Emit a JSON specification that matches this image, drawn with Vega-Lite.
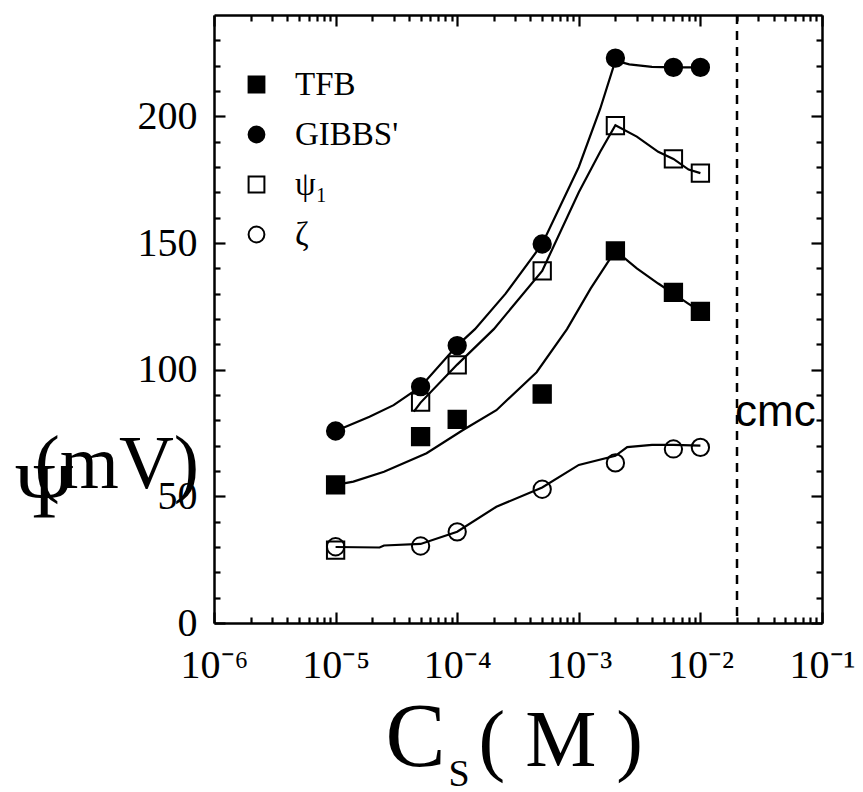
{
  "$schema": "https://vega.github.io/schema/vega-lite/v6.json",
  "width": 608,
  "height": 608,
  "autosize": "none",
  "padding": {"left": 214, "top": 15, "right": 41, "bottom": 169},
  "background": "white",
  "config": {
    "view": {"stroke": null},
    "axis": {
      "grid": false,
      "domainColor": "black",
      "domainWidth": 2.5,
      "tickColor": "black",
      "tickWidth": 2.2,
      "labelColor": "black",
      "labelFont": "Liberation Serif",
      "titleFont": "Liberation Serif",
      "titleFontWeight": "normal",
      "titleColor": "black",
      "labelFlush": false,
      "labelOverlap": false
    },
    "legend": {
      "orient": "none",
      "legendX": 26,
      "legendY": 53,
      "labelFont": "Liberation Serif",
      "labelFontSize": 33,
      "labelColor": "black",
      "symbolSize": 250,
      "symbolStrokeWidth": 2,
      "rowPadding": 16,
      "labelOffset": 22,
      "padding": 0
    }
  },
  "datasets": {
    "points": [
      {"series": "TFB", "c": 1e-5, "v": 54.5},
      {"series": "TFB", "c": 5e-5, "v": 73.6},
      {"series": "TFB", "c": 1e-4, "v": 80.4},
      {"series": "TFB", "c": 5e-4, "v": 90.4},
      {"series": "TFB", "c": 2e-3, "v": 146.9},
      {"series": "TFB", "c": 6e-3, "v": 130.5},
      {"series": "TFB", "c": 1e-2, "v": 123},
      {"series": "GIBBS'", "c": 1e-5, "v": 75.8},
      {"series": "GIBBS'", "c": 5e-5, "v": 93.3},
      {"series": "GIBBS'", "c": 1e-4, "v": 109.5},
      {"series": "GIBBS'", "c": 5e-4, "v": 149.6},
      {"series": "GIBBS'", "c": 2e-3, "v": 223},
      {"series": "GIBBS'", "c": 6e-3, "v": 219.3},
      {"series": "GIBBS'", "c": 1e-2, "v": 219.3},
      {"series": "ψ₁", "c": 1e-5, "v": 28.8},
      {"series": "ψ₁", "c": 5e-5, "v": 87.2},
      {"series": "ψ₁", "c": 1e-4, "v": 101.9},
      {"series": "ψ₁", "c": 5e-4, "v": 139},
      {"series": "ψ₁", "c": 2e-3, "v": 196.3},
      {"series": "ψ₁", "c": 6e-3, "v": 183.2},
      {"series": "ψ₁", "c": 1e-2, "v": 177.6},
      {"series": "ζ", "c": 1e-5, "v": 30.1},
      {"series": "ζ", "c": 5e-5, "v": 30.4},
      {"series": "ζ", "c": 1e-4, "v": 36},
      {"series": "ζ", "c": 5e-4, "v": 52.8},
      {"series": "ζ", "c": 2e-3, "v": 63.2},
      {"series": "ζ", "c": 6e-3, "v": 68.7},
      {"series": "ζ", "c": 1e-2, "v": 69.3}
    ],
    "curves": [
      {"series": "TFB", "c": 1e-5, "v": 54.5},
      {"series": "TFB", "c": 1.4e-5, "v": 55.8},
      {"series": "TFB", "c": 2.5e-5, "v": 59.7},
      {"series": "TFB", "c": 5.6e-5, "v": 67},
      {"series": "TFB", "c": 1.1e-4, "v": 76},
      {"series": "TFB", "c": 2.1e-4, "v": 84},
      {"series": "TFB", "c": 4.5e-4, "v": 99},
      {"series": "TFB", "c": 8e-4, "v": 116},
      {"series": "TFB", "c": 1.25e-3, "v": 132},
      {"series": "TFB", "c": 2e-3, "v": 147},
      {"series": "TFB", "c": 3e-3, "v": 140},
      {"series": "TFB", "c": 4.5e-3, "v": 134},
      {"series": "TFB", "c": 6e-3, "v": 130},
      {"series": "TFB", "c": 8e-3, "v": 126},
      {"series": "TFB", "c": 1e-2, "v": 123},
      {"series": "GIBBS'", "c": 1e-5, "v": 75.8},
      {"series": "GIBBS'", "c": 1.9e-5, "v": 81.4},
      {"series": "GIBBS'", "c": 3e-5, "v": 86},
      {"series": "GIBBS'", "c": 5e-5, "v": 93.3},
      {"series": "GIBBS'", "c": 1e-4, "v": 109.5},
      {"series": "GIBBS'", "c": 1.4e-4, "v": 116},
      {"series": "GIBBS'", "c": 2.5e-4, "v": 130},
      {"series": "GIBBS'", "c": 5e-4, "v": 149.6},
      {"series": "GIBBS'", "c": 1e-3, "v": 180},
      {"series": "GIBBS'", "c": 1.5e-3, "v": 203},
      {"series": "GIBBS'", "c": 2e-3, "v": 222},
      {"series": "GIBBS'", "c": 2.6e-3, "v": 220.5},
      {"series": "GIBBS'", "c": 4e-3, "v": 219.5},
      {"series": "GIBBS'", "c": 6e-3, "v": 219.3},
      {"series": "GIBBS'", "c": 1e-2, "v": 219.3},
      {"series": "ψ₁", "c": 4.4e-5, "v": 83.4},
      {"series": "ψ₁", "c": 5e-5, "v": 87},
      {"series": "ψ₁", "c": 1e-4, "v": 102},
      {"series": "ψ₁", "c": 2e-4, "v": 116},
      {"series": "ψ₁", "c": 5e-4, "v": 139},
      {"series": "ψ₁", "c": 1e-3, "v": 170},
      {"series": "ψ₁", "c": 1.5e-3, "v": 186},
      {"series": "ψ₁", "c": 2e-3, "v": 196.5},
      {"series": "ψ₁", "c": 3e-3, "v": 192},
      {"series": "ψ₁", "c": 4.5e-3, "v": 186},
      {"series": "ψ₁", "c": 6e-3, "v": 183.2},
      {"series": "ψ₁", "c": 8e-3, "v": 179},
      {"series": "ψ₁", "c": 1e-2, "v": 177.6},
      {"series": "ζ", "c": 1e-5, "v": 30},
      {"series": "ζ", "c": 2.3e-5, "v": 29.8},
      {"series": "ζ", "c": 2.5e-5, "v": 30.6},
      {"series": "ζ", "c": 5e-5, "v": 31.2},
      {"series": "ζ", "c": 1e-4, "v": 36},
      {"series": "ζ", "c": 2.1e-4, "v": 45.9},
      {"series": "ζ", "c": 5e-4, "v": 53.5},
      {"series": "ζ", "c": 1e-3, "v": 62.4},
      {"series": "ζ", "c": 2e-3, "v": 66},
      {"series": "ζ", "c": 2.5e-3, "v": 69.4},
      {"series": "ζ", "c": 4e-3, "v": 70.3},
      {"series": "ζ", "c": 6e-3, "v": 70.3},
      {"series": "ζ", "c": 1e-2, "v": 70}
    ],
    "cmc": [{"c": 0.02, "v": 83, "label": "cmc"}]
  },
  "resolve": {"axis": {"x": "independent", "y": "independent"}},
  "layer": [
    {
      "data": {"name": "curves"},
      "mark": {"type": "line", "color": "black", "strokeWidth": 2.2},
      "encoding": {
        "x": {
          "field": "c", "type": "quantitative",
          "scale": {"type": "log", "domain": [1e-6, 0.1], "nice": false},
          "axis": {
            "orient": "bottom",
            "values": [1e-6, 1e-5, 1e-4, 1e-3, 1e-2, 1e-1],
            "tickSize": -11,
            "labelFontSize": 40,
            "labelPadding": 33,
            "labelExpr": "'10' + (round(log(datum.value)/LN10)==-6?'⁻⁶':round(log(datum.value)/LN10)==-5?'⁻⁵':round(log(datum.value)/LN10)==-4?'⁻⁴':round(log(datum.value)/LN10)==-3?'⁻³':round(log(datum.value)/LN10)==-2?'⁻²':'⁻¹')",
            "title": "C",
            "titleFontSize": 90,
            "titleX": 171,
            "titleY": 142,
            "titleAlign": "left",
            "titleBaseline": "alphabetic"
          }
        },
        "y": {
          "field": "v", "type": "quantitative",
          "scale": {"domain": [0, 240], "nice": false},
          "axis": {
            "orient": "left",
            "values": [0, 50, 100, 150, 200],
            "tickSize": -11,
            "labelFontSize": 40,
            "labelPadding": 28,
            "title": "Ψ",
            "titleAngle": 0,
            "titleFontSize": 78,
            "titleX": -199,
            "titleY": 501,
            "titleAlign": "left",
            "titleBaseline": "alphabetic"
          }
        },
        "detail": {"field": "series"}
      }
    },
    {
      "data": {"name": "points"},
      "mark": {"type": "point", "strokeWidth": 2, "size": 300, "opacity": 1},
      "encoding": {
        "x": {
          "field": "c", "type": "quantitative",
          "scale": {"type": "log", "domain": [1e-6, 0.1], "nice": false},
          "axis": {
            "orient": "top",
            "values": [1e-6, 1e-5, 1e-4, 1e-3, 1e-2, 1e-1],
            "tickSize": -11,
            "labels": false,
            "title": "S",
            "titleFontSize": 38,
            "titleX": 234,
            "titleY": 770,
            "titleAlign": "left",
            "titleBaseline": "alphabetic"
          }
        },
        "y": {
          "field": "v", "type": "quantitative",
          "scale": {"domain": [0, 240], "nice": false},
          "axis": {
            "orient": "right",
            "values": [0, 50, 100, 150, 200],
            "tickSize": -11,
            "labels": false,
            "title": "(mV)",
            "titleAngle": 0,
            "titleFontSize": 76,
            "titleX": -788,
            "titleY": 472,
            "titleAlign": "left",
            "titleBaseline": "alphabetic"
          }
        },
        "shape": {
          "field": "series", "type": "nominal",
          "scale": {"domain": ["TFB", "GIBBS'", "ψ₁", "ζ"], "range": ["square", "circle", "square", "circle"]},
          "legend": {"title": null}
        },
        "fill": {
          "field": "series", "type": "nominal",
          "scale": {"domain": ["TFB", "GIBBS'", "ψ₁", "ζ"], "range": ["black", "black", "transparent", "transparent"]},
          "legend": {"title": null}
        },
        "stroke": {
          "field": "series", "type": "nominal",
          "scale": {"domain": ["TFB", "GIBBS'", "ψ₁", "ζ"], "range": ["black", "black", "black", "black"]},
          "legend": {"title": null}
        }
      }
    },
    {
      "data": {"name": "points"},
      "mark": {"type": "point", "opacity": 0},
      "encoding": {
        "x": {
          "field": "c", "type": "quantitative",
          "scale": {"type": "log", "domain": [1e-6, 0.1], "nice": false},
          "axis": {
            "orient": "bottom",
            "values": [2e-6, 3e-6, 4e-6, 5e-6, 6e-6, 7e-6, 8e-6, 9e-6, 2e-5, 3e-5, 4e-5, 5e-5, 6e-5, 7e-5, 8e-5, 9e-5, 2e-4, 3e-4, 4e-4, 5e-4, 6e-4, 7e-4, 8e-4, 9e-4, 2e-3, 3e-3, 4e-3, 5e-3, 6e-3, 7e-3, 8e-3, 9e-3, 2e-2, 3e-2, 4e-2, 5e-2, 6e-2, 7e-2, 8e-2, 9e-2],
            "tickSize": -6,
            "labels": false,
            "domain": false,
            "title": "( M )",
            "titleFontSize": 80,
            "titleX": 264,
            "titleY": 142,
            "titleAlign": "left",
            "titleBaseline": "alphabetic"
          }
        },
        "y": {
          "field": "v", "type": "quantitative",
          "scale": {"domain": [0, 240], "nice": false},
          "axis": {
            "orient": "left",
            "values": [10, 20, 30, 40, 60, 70, 80, 90, 110, 120, 130, 140, 160, 170, 180, 190, 210, 220, 230],
            "tickSize": -6,
            "labels": false,
            "domain": false,
            "title": null
          }
        }
      }
    },
    {
      "data": {"name": "points"},
      "mark": {"type": "point", "opacity": 0},
      "encoding": {
        "x": {
          "field": "c", "type": "quantitative",
          "scale": {"type": "log", "domain": [1e-6, 0.1], "nice": false},
          "axis": {
            "orient": "top",
            "values": [2e-6, 3e-6, 4e-6, 5e-6, 6e-6, 7e-6, 8e-6, 9e-6, 2e-5, 3e-5, 4e-5, 5e-5, 6e-5, 7e-5, 8e-5, 9e-5, 2e-4, 3e-4, 4e-4, 5e-4, 6e-4, 7e-4, 8e-4, 9e-4, 2e-3, 3e-3, 4e-3, 5e-3, 6e-3, 7e-3, 8e-3, 9e-3, 2e-2, 3e-2, 4e-2, 5e-2, 6e-2, 7e-2, 8e-2, 9e-2],
            "tickSize": -6,
            "labels": false,
            "domain": false,
            "title": null
          }
        },
        "y": {
          "field": "v", "type": "quantitative",
          "scale": {"domain": [0, 240], "nice": false},
          "axis": {
            "orient": "right",
            "values": [10, 20, 30, 40, 60, 70, 80, 90, 110, 120, 130, 140, 160, 170, 180, 190, 210, 220, 230],
            "tickSize": -6,
            "labels": false,
            "domain": false,
            "title": null
          }
        }
      }
    },
    {
      "data": {"name": "cmc"},
      "mark": {"type": "rule", "color": "black", "strokeWidth": 2.5, "strokeDash": [9, 7]},
      "encoding": {
        "x": {"field": "c", "type": "quantitative", "scale": {"type": "log", "domain": [1e-6, 0.1], "nice": false}, "axis": null}
      }
    },
    {
      "data": {"name": "cmc"},
      "mark": {"type": "text", "font": "Liberation Sans", "fontSize": 44, "align": "left", "baseline": "middle", "color": "black", "dx": -2},
      "encoding": {
        "x": {"field": "c", "type": "quantitative", "scale": {"type": "log", "domain": [1e-6, 0.1], "nice": false}, "axis": null},
        "y": {"field": "v", "type": "quantitative", "scale": {"domain": [0, 240], "nice": false}, "axis": null},
        "text": {"field": "label"}
      }
    }
  ]
}
